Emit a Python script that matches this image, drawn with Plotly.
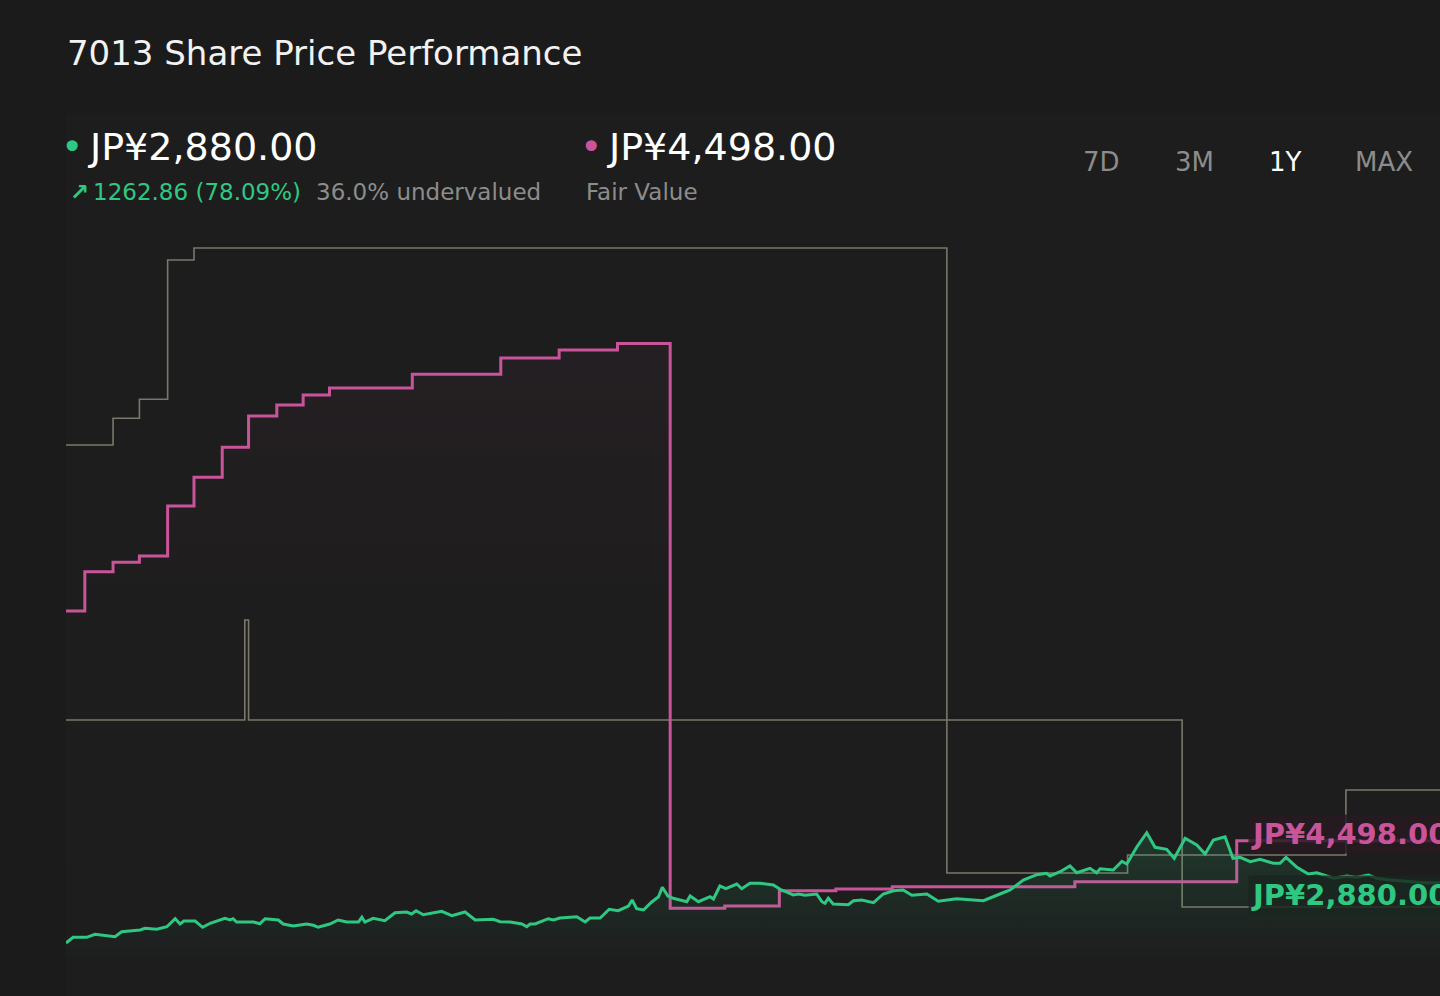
import pandas as pd
import plotly.graph_objects as go

START = pd.Timestamp('2024-11-04')
SPAN_DAYS = 365

# daily close (JPY), days since START
price_day = [0, 1.9, 5.5, 7.7, 13.0, 14.8, 19.7, 21.0, 24.1, 26.8,
             29.0, 30.3, 31.3, 34.3, 36.3, 38.3, 42.2, 43.6, 44.4, 45.3,
             49.8, 51.5, 52.9, 56.4, 57.7, 60.4, 63.9, 65.7, 67.0, 70.1,
             72.3, 74.6, 77.7, 78.6, 79.4, 81.6, 84.7, 87.4, 90.5, 91.8,
             93.0, 94.9, 99.8, 102.5, 106.0, 108.7, 113.5, 115.3, 118.0, 121.1,
             122.4, 123.3, 124.6, 128.1, 129.5, 131.2, 135.7, 137.9, 139.2, 141.9,
             144.3, 146.7, 149.4, 150.4, 151.6, 153.4, 155.6, 157.4, 158.4, 159.9,
             161.3, 164.9, 165.8, 168.0, 171.1, 172.0, 173.7, 175.3, 178.2, 179.5,
             181.7, 184.4, 187.9, 189.7, 193.2, 194.6, 196.3, 199.4, 200.8, 201.6,
             202.5, 203.8, 207.8, 209.2, 211.4, 214.5, 217.1, 219.8, 222.4, 224.7,
             228.7, 231.7, 236.6, 240.2, 243.7, 248.1, 250.8, 254.3, 257.9, 260.5,
             261.4, 264.1, 266.7, 268.5, 272.0, 273.8, 274.7, 278.2, 280.5, 281.8,
             284.5, 287.1, 289.3, 292.4, 294.4, 297.3, 300.4, 302.6, 304.8, 307.9,
             310.0, 311.9, 314.6, 317.2, 319.0, 320.7, 322.5, 324.1, 327.0, 330.0,
             332.3, 334.5, 336.7, 340.2, 342.9, 346.0, 348.2, 351.7, 356.2, 360.6,
             365]
price = [1617, 1737, 1737, 1800, 1749, 1854, 1890, 1926, 1905, 1959,
         2127, 2016, 2079, 2079, 1947, 2031, 2136, 2100, 2127, 2058,
         2058, 2022, 2127, 2100, 2016, 1974, 2016, 1989, 1947, 2016,
         2100, 2058, 2058, 2157, 2058, 2136, 2085, 2253, 2268, 2226,
         2295, 2211, 2283, 2190, 2268, 2100, 2115, 2064, 2058, 2016,
         1959, 2016, 2016, 2127, 2100, 2142, 2169, 2058, 2142, 2142,
         2325, 2295, 2394, 2520, 2337, 2310, 2478, 2589, 2787, 2604,
         2556, 2484, 2604, 2484, 2589, 2541, 2814, 2757, 2856, 2757,
         2871, 2871, 2835, 2745, 2625, 2646, 2619, 2646, 2484, 2451,
         2556, 2436, 2421, 2505, 2520, 2463, 2646, 2715, 2730, 2619,
         2646, 2493, 2547, 2520, 2505, 2646, 2730, 2940, 3051, 3081,
         3024, 3114, 3234, 3093, 3186, 3093, 3177, 3150, 3333, 3276,
         3639, 3933, 3627, 3585, 3396, 3816, 3675, 3486, 3780, 3849,
         3396, 3417, 3324, 3375, 3324, 3291, 3291, 3417, 3207, 3066,
         3093, 3039, 2976, 3024, 2997, 3045, 2976, 2940, 2904, 2883,
         2880]

# fair value estimate (step changes)
fv_day = [0, 5, 12.5, 19.5, 27, 34, 41.5, 48.5, 56, 63, 70, 92, 115.5, 131, 146.5,
          160.5, 175, 189.5, 204.5, 219.5, 268, 311, 365]
fair_value = [8589, 9414, 9612, 9744, 10794, 11397, 12027, 12684, 12915, 13125, 13272,
              13560, 13902, 14070, 14207, 2346, 2394, 2715, 2751, 2799, 2904, 3765, 3765]

# analyst targets (high / low)
high_day = [0, 12.5, 19.5, 27, 34, 234, 282, 340, 365]
high_target = [12075, 12636, 13035, 15960, 16212, 3087, 3465, 4830, 4830]
low_day = [0, 47.5, 48.5, 296.5, 365]
low_target = [6300, 8400, 6300, 2373, 2373]

BG = '#1b1b1b'
GREEN = '#2fc882'
PINK = '#c9549a'
GREY_LINE = '#7b776b'
GREY_TEXT = '#8c8c8c'
FONT = 'DejaVu Sans'


def to_dates(days):
    return [START + pd.Timedelta(days=d) for d in days]


fig = go.Figure()
fig.add_trace(go.Scatter(x=to_dates(high_day), y=high_target, mode='lines',
                         line=dict(color=GREY_LINE, width=1.6, shape='hv')))
fig.add_trace(go.Scatter(x=to_dates(low_day), y=low_target, mode='lines',
                         line=dict(color=GREY_LINE, width=1.6, shape='hv')))
fig.add_trace(go.Scatter(x=to_dates(fv_day), y=fair_value, mode='lines',
                         line=dict(color=PINK, width=3, shape='hv'),
                         fill='tozeroy',
                         fillgradient=dict(type='vertical', start=1260, stop=max(fair_value),
                                           colorscale=[[0, 'rgba(201,84,154,0)'],
                                                       [0.6, 'rgba(201,84,154,0.008)'],
                                                       [1, 'rgba(201,84,154,0.045)']])))
fig.add_trace(go.Scatter(x=to_dates(price_day), y=price, mode='lines',
                         line=dict(color=GREEN, width=3),
                         fill='tozeroy',
                         fillgradient=dict(type='vertical', start=1260, stop=max(price),
                                           colorscale=[[0, 'rgba(47,200,130,0)'],
                                                       [1, 'rgba(47,200,130,0.16)']])))

ann = []
# header
ann.append(dict(x=0.0044, y=1.1137, text='•', font=dict(size=38, color=GREEN),
                xanchor='center', yanchor='middle'))
ann.append(dict(x=0.0146, y=1.1137, text='JP¥2,880.00', font=dict(size=38, color='#ffffff'),
                xanchor='left', yanchor='middle'))
ann.append(dict(x=0.0015, y=1.0521, text='<b>↗</b>', font=dict(size=23, color=GREEN),
                xanchor='left', yanchor='middle'))
ann.append(dict(x=0.0183, y=1.0521, text='1262.86 (78.09%)', font=dict(size=23, color=GREEN),
                xanchor='left', yanchor='middle'))
ann.append(dict(x=0.1805, y=1.0521, text='36.0% undervalued', font=dict(size=23, color=GREY_TEXT),
                xanchor='left', yanchor='middle'))
ann.append(dict(x=0.3821, y=1.1137, text='•', font=dict(size=38, color=PINK),
                xanchor='center', yanchor='middle'))
ann.append(dict(x=0.3923, y=1.1137, text='JP¥4,498.00', font=dict(size=38, color='#ffffff'),
                xanchor='left', yanchor='middle'))
ann.append(dict(x=0.3770, y=1.0521, text='Fair Value', font=dict(size=23, color=GREY_TEXT),
                xanchor='left', yanchor='middle'))
for label, xp in [('7D', 0.7540), ('3M', 0.8210), ('1Y', 0.8872), ('MAX', 0.9592)]:
    ann.append(dict(x=xp, y=1.0932, text=label,
                    font=dict(size=26, color='#ffffff' if label == '1Y' else GREY_TEXT),
                    xanchor='center', yanchor='middle'))
for a in ann:
    a.update(xref='paper', yref='paper', showarrow=False)

# end-of-line value tags
fig.add_annotation(x=0.860, xref='paper', y=fair_value[-1], yref='y', yshift=7,
                   text='<b>JP¥4,498.00</b>', font=dict(size=29, color=PINK),
                   xanchor='left', yanchor='middle', showarrow=False,
                   bgcolor='rgba(38,26,33,0.82)', borderpad=2)
fig.add_annotation(x=0.860, xref='paper', y=price[-1], yref='y', yshift=-12,
                   text='<b>JP¥2,880.00</b>', font=dict(size=29, color=GREEN),
                   xanchor='left', yanchor='middle', showarrow=False,
                   bgcolor='rgba(26,38,31,0.82)', borderpad=2)

fig.update_layout(
    width=1440, height=996,
    margin=dict(l=66, r=0, t=230, b=36),
    paper_bgcolor=BG, plot_bgcolor='rgba(0,0,0,0)',
    font=dict(family=FONT, color='#f2f2f2'),
    title=dict(text='7013 Share Price Performance', x=0.0465, xanchor='left',
               y=0.9468, yanchor='middle', font=dict(size=34, color='#f2f2f2')),
    showlegend=False,
    hovermode=False,
    xaxis=dict(range=[START, START + pd.Timedelta(days=SPAN_DAYS)], visible=False),
    yaxis=dict(range=[1260, 16590], visible=False),
    annotations=list(fig.layout.annotations) + ann,
    shapes=[dict(type='rect', xref='paper', yref='paper', x0=0, x1=1, y0=-0.06, y1=1.16,
                 fillcolor='rgba(255,255,255,0.01)', line=dict(width=0), layer='below')],
)

fig.write_html('out.html', config={'displayModeBar': False},
               post_script="document.body.style.margin='0';document.body.style.background='#1b1b1b';")
